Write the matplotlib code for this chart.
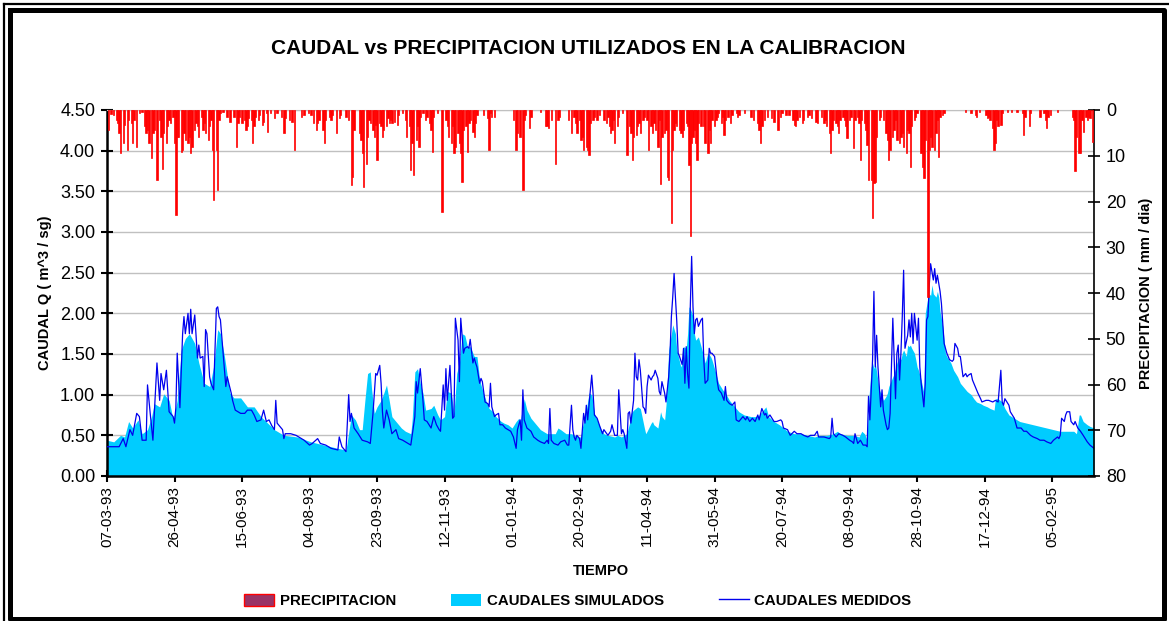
import numpy as np
import matplotlib
matplotlib.use("Agg")
import matplotlib.pyplot as plt
from matplotlib.patches import Patch
from matplotlib.lines import Line2D

plt.rcParams["font.family"] = ["Liberation Sans", "DejaVu Sans"]

# etiquetas del eje x (una cada 50 dias, dia 0 = 07-03-93)
fechas = ["07-03-93", "26-04-93", "15-06-93", "04-08-93", "23-09-93",
          "12-11-93", "01-01-94", "20-02-94", "11-04-94", "31-05-94",
          "20-07-94", "08-09-94", "28-10-94", "17-12-94", "05-02-95"]
n_dias = 731

# caudales medidos (dia, m3/s)
q_medido = [
    (0, 0.36), (9, 0.36), (12, 0.46), (14, 0.36), (17, 0.57), (19, 0.50), (22, 0.77), (24, 0.73),
    (26, 0.44), (29, 0.44), (30, 1.12), (32, 0.77), (34, 0.44), (37, 1.39), (39, 0.93), (40, 1.26),
    (42, 1.06), (44, 1.30), (46, 0.79), (49, 0.73), (50, 0.65), (51, 0.84), (52, 1.51), (54, 0.84),
    (56, 1.75), (57, 1.96), (58, 1.75), (60, 2.00), (61, 1.75), (62, 2.05), (63, 1.75), (65, 1.98),
    (67, 1.45), (68, 1.61), (69, 1.45), (71, 1.47), (72, 1.10), (73, 1.80), (74, 1.75), (76, 1.22),
    (77, 1.14), (79, 1.06), (81, 2.06), (82, 2.08), (83, 1.96), (84, 1.92), (86, 1.51), (88, 1.10),
    (89, 1.22), (92, 1.02), (93, 0.93), (95, 0.81), (99, 0.77), (102, 0.77), (104, 0.81), (107, 0.81),
    (109, 0.75), (111, 0.67), (114, 0.69), (116, 0.81), (118, 0.67), (120, 0.69), (122, 0.62),
    (124, 0.57), (125, 0.93), (126, 0.65), (130, 0.57), (131, 0.46), (132, 0.52), (136, 0.52),
    (140, 0.50), (144, 0.46), (146, 0.44), (150, 0.38), (152, 0.40), (156, 0.46), (158, 0.40),
    (162, 0.38), (166, 0.34), (171, 0.32), (172, 0.48), (174, 0.36), (177, 0.30), (179, 1.00),
    (180, 0.67), (181, 0.77), (183, 0.59), (186, 0.52), (189, 0.44), (193, 0.42), (195, 0.40),
    (197, 0.77), (199, 1.26), (200, 1.24), (202, 1.36), (203, 1.14), (204, 0.79), (205, 0.59),
    (207, 0.81), (209, 0.69), (211, 0.52), (214, 0.57), (216, 0.46), (219, 0.44), (221, 0.42),
    (225, 0.38), (228, 0.73), (229, 1.16), (230, 1.02), (232, 1.32), (234, 0.93), (235, 0.69),
    (237, 0.67), (240, 0.59), (242, 0.73), (244, 0.63), (246, 0.57), (247, 0.55), (249, 1.12),
    (250, 0.81), (251, 1.32), (252, 0.93), (254, 1.36), (255, 1.02), (256, 0.71), (257, 0.73),
    (258, 1.94), (260, 1.67), (261, 1.16), (262, 1.94), (264, 1.51), (265, 1.57), (267, 1.59),
    (268, 1.57), (269, 1.68), (271, 1.39), (272, 1.45), (273, 1.39), (274, 1.34), (276, 1.14),
    (277, 1.20), (278, 1.16), (280, 0.91), (282, 0.89), (283, 0.85), (284, 1.14), (285, 0.85),
    (287, 0.73), (288, 0.75), (290, 0.77), (291, 0.63), (293, 0.63), (295, 0.59), (299, 0.55),
    (301, 0.48), (303, 0.34), (304, 0.57), (306, 0.69), (307, 0.44), (308, 1.06), (309, 0.69),
    (311, 0.59), (314, 0.55), (316, 0.48), (319, 0.44), (321, 0.42), (324, 0.40), (326, 0.44),
    (327, 0.40), (328, 0.83), (329, 0.44), (331, 0.40), (334, 0.38), (336, 0.42), (339, 0.44),
    (341, 0.38), (342, 0.38), (344, 0.87), (345, 0.57), (346, 0.48), (347, 0.44), (348, 0.50),
    (350, 0.46), (351, 0.34), (353, 0.77), (354, 0.65), (355, 0.87), (356, 0.69), (358, 1.06),
    (359, 1.24), (360, 1.02), (361, 0.75), (363, 0.71), (365, 0.61), (367, 0.52), (368, 0.57),
    (371, 0.50), (373, 0.55), (374, 0.63), (376, 0.50), (378, 0.50), (379, 1.06), (381, 0.52),
    (382, 0.57), (383, 0.52), (385, 0.34), (386, 0.77), (387, 0.79), (388, 0.65), (390, 0.93),
    (391, 1.51), (392, 1.22), (393, 1.18), (394, 1.43), (395, 1.30), (397, 0.85), (398, 0.83),
    (399, 0.77), (400, 1.10), (401, 1.24), (403, 1.18), (404, 1.22), (405, 1.24), (406, 1.30),
    (408, 1.20), (409, 1.04), (410, 1.00), (411, 1.16), (413, 1.02), (414, 0.91), (416, 1.22),
    (417, 1.51), (418, 1.96), (419, 2.20), (420, 2.49), (421, 2.20), (422, 1.90), (423, 1.51),
    (424, 1.47), (426, 1.37), (427, 1.57), (428, 1.14), (429, 1.59), (430, 1.26), (431, 1.08),
    (432, 2.08), (433, 2.70), (434, 2.08), (435, 1.75), (436, 1.92), (437, 1.94), (438, 1.84),
    (440, 1.92), (441, 1.94), (442, 1.43), (443, 1.14), (445, 1.18), (446, 1.57), (447, 1.51),
    (448, 1.51), (450, 1.47), (451, 1.32), (452, 1.16), (453, 1.06), (455, 1.02), (457, 0.93),
    (458, 1.10), (459, 0.93), (461, 0.89), (463, 0.87), (465, 0.91), (466, 0.69), (468, 0.67),
    (471, 0.73), (473, 0.69), (474, 0.73), (476, 0.67), (478, 0.71), (480, 0.67), (482, 0.75),
    (483, 0.69), (485, 0.83), (487, 0.75), (488, 0.77), (489, 0.71), (491, 0.75), (494, 0.67),
    (496, 0.67), (499, 0.69), (500, 0.67), (501, 0.59), (504, 0.57), (506, 0.50), (509, 0.55),
    (511, 0.52), (514, 0.52), (516, 0.50), (519, 0.48), (521, 0.50), (524, 0.50), (526, 0.55),
    (527, 0.48), (531, 0.48), (535, 0.46), (536, 0.48), (537, 0.71), (538, 0.52), (540, 0.48),
    (542, 0.52), (545, 0.50), (547, 0.48), (550, 0.44), (552, 0.42), (553, 0.40), (554, 0.52),
    (556, 0.40), (558, 0.44), (560, 0.38), (562, 0.38), (563, 0.36), (564, 0.98), (565, 0.69),
    (567, 1.43), (568, 2.27), (569, 1.34), (570, 1.73), (571, 1.34), (572, 1.10), (573, 0.85),
    (574, 1.06), (575, 0.81), (577, 0.63), (578, 0.57), (579, 0.59), (580, 0.77), (582, 1.94),
    (583, 1.43), (584, 0.95), (585, 1.51), (586, 1.61), (587, 1.18), (588, 1.51), (589, 1.96),
    (590, 2.53), (591, 1.57), (593, 1.73), (594, 1.92), (595, 1.71), (596, 2.00), (597, 1.63),
    (598, 2.00), (600, 1.67), (601, 1.94), (602, 1.34), (603, 1.14), (605, 0.85), (606, 1.14),
    (607, 1.92), (608, 1.96), (609, 2.35), (610, 2.61), (612, 2.41), (613, 2.55), (614, 2.37),
    (615, 2.47), (617, 2.27), (618, 2.12), (619, 1.88), (620, 1.63), (622, 1.51), (624, 1.43),
    (626, 1.41), (627, 1.43), (628, 1.63), (630, 1.57), (631, 1.47), (632, 1.47), (633, 1.34),
    (634, 1.22), (636, 1.26), (637, 1.22), (638, 1.24), (640, 1.26), (641, 1.18), (642, 1.14),
    (645, 1.02), (647, 0.95), (648, 0.91), (651, 0.93), (653, 0.93), (656, 0.91), (658, 0.93),
    (660, 0.91), (662, 1.30), (663, 0.91), (664, 0.87), (665, 0.95), (668, 0.87), (669, 0.79),
    (672, 0.71), (674, 0.59), (677, 0.59), (679, 0.55), (681, 0.55), (684, 0.50), (686, 0.48),
    (689, 0.46), (691, 0.44), (694, 0.44), (696, 0.42), (699, 0.40), (701, 0.44), (704, 0.48),
    (705, 0.46), (706, 0.50), (707, 0.71), (709, 0.67), (710, 0.75), (711, 0.79), (713, 0.79),
    (714, 0.67), (716, 0.63), (717, 0.67), (719, 0.59), (721, 0.55), (723, 0.50), (726, 0.42),
    (728, 0.38), (731, 0.34),
]

# caudales simulados (dia, m3/s)
q_simulado = [
    (0, 0.44), (5, 0.42), (10, 0.50), (13, 0.48), (16, 0.67), (19, 0.59), (23, 0.69), (26, 0.52),
    (30, 0.57), (33, 0.73), (35, 0.89), (39, 0.85), (42, 1.01), (46, 0.93), (49, 0.69), (52, 0.93),
    (55, 1.55), (58, 1.69), (61, 1.75), (65, 1.63), (68, 1.39), (72, 1.14), (76, 1.10), (79, 1.35),
    (82, 1.80), (84, 1.75), (87, 1.47), (91, 1.02), (94, 0.96), (99, 0.96), (104, 0.85), (109, 0.85),
    (114, 0.73), (119, 0.65), (124, 0.57), (131, 0.50), (141, 0.48), (151, 0.42), (161, 0.38),
    (171, 0.34), (177, 0.32), (181, 0.75), (184, 0.69), (187, 0.57), (189, 0.57), (191, 0.93),
    (193, 1.26), (195, 1.28), (196, 1.06), (198, 0.77), (200, 0.85), (203, 0.93), (205, 1.02),
    (207, 1.12), (209, 0.93), (211, 0.73), (214, 0.67), (218, 0.59), (221, 0.55), (225, 0.52),
    (226, 0.69), (228, 1.28), (230, 1.32), (232, 1.14), (234, 1.02), (236, 0.81), (240, 0.83),
    (242, 0.87), (245, 0.75), (247, 0.69), (250, 0.73), (252, 1.04), (255, 1.02), (257, 0.77),
    (259, 1.26), (261, 1.39), (263, 1.75), (265, 1.73), (267, 1.59), (269, 1.59), (272, 1.47),
    (274, 1.47), (276, 1.18), (278, 1.06), (281, 0.91), (283, 0.83), (286, 0.79), (288, 0.73),
    (292, 0.67), (294, 0.65), (297, 0.63), (300, 0.59), (303, 0.67), (305, 0.71), (306, 0.67),
    (309, 0.95), (311, 0.81), (314, 0.71), (318, 0.63), (321, 0.57), (326, 0.52), (332, 0.52),
    (334, 0.59), (336, 0.57), (340, 0.52), (344, 0.52), (349, 0.48), (351, 0.48), (352, 0.59),
    (355, 0.81), (357, 1.02), (359, 1.00), (361, 0.77), (363, 0.69), (366, 0.57), (368, 0.52),
    (371, 0.50), (376, 0.48), (378, 0.50), (381, 0.48), (385, 0.52), (387, 0.65), (388, 0.77),
    (390, 0.81), (393, 0.85), (395, 0.83), (398, 0.59), (399, 0.52), (400, 0.55), (403, 0.65),
    (404, 0.67), (405, 0.63), (408, 0.59), (410, 0.79), (411, 0.73), (413, 0.69), (414, 0.87),
    (415, 1.18), (416, 1.55), (418, 1.75), (419, 1.86), (421, 1.75), (422, 1.55), (425, 1.34),
    (426, 1.39), (427, 1.59), (429, 1.57), (430, 1.75), (431, 2.08), (432, 2.06), (434, 1.96),
    (435, 1.75), (436, 1.67), (438, 1.71), (440, 1.59), (442, 1.47), (443, 1.39), (445, 1.51),
    (447, 1.47), (448, 1.43), (451, 1.26), (453, 1.14), (456, 1.06), (458, 1.02), (461, 0.93),
    (464, 0.87), (468, 0.79), (472, 0.75), (477, 0.73), (482, 0.73), (485, 0.79), (488, 0.85),
    (490, 0.73), (494, 0.67), (498, 0.63), (501, 0.59), (504, 0.55), (509, 0.52), (514, 0.52),
    (519, 0.50), (524, 0.48), (528, 0.50), (533, 0.50), (538, 0.52), (541, 0.55), (543, 0.52),
    (548, 0.50), (553, 0.50), (557, 0.48), (559, 0.55), (561, 0.52), (563, 0.44), (564, 0.89),
    (566, 1.34), (567, 1.39), (568, 1.32), (569, 1.39), (570, 1.28), (572, 1.06), (573, 1.02),
    (575, 0.93), (577, 0.98), (578, 1.02), (579, 1.10), (580, 1.14), (583, 1.26), (584, 1.32),
    (585, 1.39), (587, 1.47), (588, 1.43), (589, 1.51), (590, 1.55), (592, 1.47), (593, 1.61),
    (594, 1.59), (595, 1.61), (596, 1.57), (598, 1.51), (599, 1.43), (600, 1.34), (601, 1.30),
    (603, 1.18), (604, 1.10), (605, 1.02), (606, 2.00), (608, 2.20), (609, 2.24), (610, 2.22),
    (611, 2.35), (612, 2.24), (614, 2.20), (615, 2.27), (616, 2.20), (617, 2.02), (619, 1.84),
    (620, 1.67), (621, 1.51), (622, 1.47), (625, 1.39), (627, 1.30), (630, 1.22), (632, 1.14),
    (635, 1.08), (637, 1.04), (640, 1.00), (642, 0.95), (644, 0.91), (647, 0.89), (649, 0.87),
    (652, 0.85), (654, 0.83), (657, 0.81), (658, 0.95), (660, 0.95), (663, 0.91), (665, 0.83),
    (668, 0.75), (672, 0.71), (676, 0.67), (681, 0.65), (686, 0.63), (691, 0.61), (696, 0.59),
    (701, 0.57), (706, 0.55), (716, 0.55), (718, 0.52), (720, 0.75), (721, 0.75), (723, 0.67),
    (726, 0.63), (728, 0.61), (731, 0.59),
]

# precipitacion diaria (dia, mm)
lluvia = [
    (1, 4.4), (3, 0.8), (5, 1.0), (7, 2.2), (8, 2.9), (9, 5.1), (10, 9.5), (12, 7.3), (13, 3.3),
    (15, 8.7), (16, 2.2), (18, 2.9), (19, 7.3), (20, 2.2), (22, 8.0), (24, 0.7), (26, 0.5),
    (28, 3.6), (29, 5.1), (30, 4.4), (31, 7.3), (33, 10.6), (34, 5.1), (35, 4.4), (37, 15.3),
    (39, 2.2), (40, 5.8), (41, 12.8), (42, 5.1), (44, 7.3), (45, 3.6), (46, 2.2), (47, 2.9),
    (49, 1.5), (50, 7.3), (51, 22.9), (52, 5.8), (53, 5.8), (55, 9.1), (56, 8.7), (57, 5.1),
    (58, 6.6), (60, 7.3), (61, 5.8), (62, 9.5), (63, 8.0), (65, 4.4), (66, 2.9), (67, 3.6),
    (68, 5.8), (70, 1.5), (71, 4.4), (72, 2.9), (73, 5.1), (75, 6.6), (76, 3.6), (77, 2.2),
    (78, 8.7), (79, 19.7), (81, 8.7), (82, 17.5), (83, 2.2), (84, 0.7), (86, 0.5), (89, 1.5),
    (91, 2.6), (94, 1.5), (96, 8.0), (97, 2.9), (98, 1.5), (100, 2.9), (102, 2.2), (103, 4.4),
    (104, 3.6), (105, 1.8), (107, 2.2), (108, 7.3), (109, 3.6), (110, 1.5), (112, 2.2),
    (113, 1.1), (115, 3.3), (116, 2.6), (118, 0.7), (119, 4.7), (121, 0.7), (124, 1.8),
    (126, 0.7), (129, 1.5), (131, 5.1), (132, 1.8), (135, 2.2), (137, 2.6), (139, 8.7),
    (144, 1.5), (146, 1.1), (149, 0.7), (151, 1.1), (153, 2.9), (155, 4.4), (156, 2.9),
    (157, 2.2), (160, 4.4), (161, 7.3), (162, 2.2), (165, 1.5), (166, 2.2), (167, 1.1),
    (170, 5.1), (172, 1.8), (173, 1.1), (177, 1.5), (179, 2.2), (181, 16.4), (182, 14.6),
    (183, 4.4), (187, 5.1), (188, 6.6), (189, 9.5), (190, 16.8), (192, 11.7), (193, 5.8),
    (194, 2.2), (195, 2.9), (197, 4.4), (198, 5.8), (199, 3.3), (200, 10.9), (202, 2.9),
    (203, 3.6), (204, 5.8), (205, 4.4), (207, 3.6), (208, 1.8), (209, 2.9), (210, 2.2),
    (211, 2.9), (213, 2.6), (215, 3.3), (216, 1.1), (219, 0.7), (221, 2.2), (222, 5.8),
    (224, 3.6), (225, 13.1), (226, 7.3), (227, 14.2), (229, 6.6), (230, 3.6), (231, 8.0),
    (232, 1.5), (234, 0.7), (236, 2.2), (237, 1.5), (239, 2.9), (240, 4.4), (241, 9.1),
    (242, 1.5), (245, 0.7), (248, 22.2), (251, 2.2), (252, 3.6), (253, 5.8), (255, 7.3),
    (256, 3.6), (257, 9.5), (258, 8.0), (260, 5.1), (261, 7.3), (262, 9.5), (263, 15.7),
    (264, 4.4), (266, 3.6), (267, 9.1), (268, 2.9), (269, 2.2), (271, 4.7), (272, 5.8),
    (273, 2.9), (274, 1.1), (279, 1.1), (282, 1.8), (283, 8.7), (284, 0.7), (285, 1.5),
    (287, 1.5), (301, 2.2), (303, 8.7), (304, 5.1), (306, 5.8), (308, 17.5), (309, 2.2),
    (310, 1.1), (313, 4.0), (314, 1.5), (321, 0.4), (325, 3.6), (326, 3.6), (327, 4.0),
    (329, 2.2), (332, 11.7), (334, 2.2), (335, 1.5), (342, 2.2), (344, 5.1), (346, 1.5),
    (347, 2.9), (348, 5.1), (350, 2.2), (351, 6.6), (352, 5.8), (353, 8.7), (355, 8.0),
    (356, 8.7), (357, 9.8), (358, 2.9), (360, 2.2), (361, 1.5), (363, 2.2), (365, 1.1),
    (368, 2.2), (370, 2.9), (371, 1.5), (372, 3.6), (373, 5.1), (374, 4.4), (375, 2.2),
    (376, 7.3), (378, 3.6), (379, 1.5), (382, 0.7), (385, 9.8), (387, 3.6), (388, 5.1),
    (389, 10.9), (390, 5.8), (392, 5.5), (393, 3.6), (394, 2.9), (395, 5.1), (397, 2.2),
    (398, 1.5), (400, 2.2), (401, 8.7), (403, 3.6), (404, 5.1), (405, 2.9), (406, 4.4),
    (408, 8.0), (409, 2.2), (410, 16.1), (411, 5.8), (413, 5.1), (414, 4.4), (415, 14.6),
    (416, 15.3), (418, 24.6), (419, 8.7), (420, 4.4), (421, 2.9), (422, 3.6), (424, 4.4),
    (425, 5.1), (426, 5.8), (427, 4.4), (429, 2.9), (430, 3.6), (431, 12.0), (432, 27.6),
    (433, 7.3), (434, 5.8), (435, 4.4), (436, 7.3), (437, 10.9), (438, 2.9), (440, 3.6),
    (442, 3.6), (443, 7.3), (445, 9.5), (446, 4.4), (447, 7.3), (448, 2.2), (450, 3.6),
    (451, 2.2), (452, 1.5), (453, 0.7), (455, 2.9), (456, 1.5), (457, 5.5), (458, 2.2),
    (460, 1.5), (462, 2.9), (463, 1.1), (466, 0.7), (467, 1.5), (468, 1.1), (472, 0.7),
    (477, 1.5), (479, 2.2), (482, 2.9), (483, 4.4), (484, 7.3), (485, 3.6), (487, 2.2),
    (489, 1.5), (492, 1.8), (494, 2.6), (497, 4.4), (499, 1.5), (500, 0.7), (503, 1.1),
    (505, 1.1), (508, 2.2), (509, 3.3), (510, 3.6), (511, 2.2), (513, 1.5), (515, 2.9),
    (516, 2.2), (519, 1.5), (520, 1.1), (522, 1.8), (525, 2.6), (526, 2.9), (529, 1.5),
    (531, 2.9), (532, 2.2), (533, 3.6), (535, 5.1), (536, 9.5), (537, 4.4), (538, 2.2),
    (540, 2.9), (541, 3.6), (542, 5.1), (543, 2.2), (545, 1.5), (546, 2.2), (547, 3.6),
    (548, 6.2), (550, 2.2), (551, 1.5), (553, 8.4), (554, 2.2), (556, 1.5), (557, 2.9),
    (558, 10.9), (559, 2.2), (561, 2.9), (562, 4.4), (563, 7.7), (564, 15.3), (566, 15.3),
    (567, 23.6), (568, 16.0), (569, 15.7), (570, 5.8), (572, 2.2), (573, 1.5), (575, 2.2),
    (577, 5.1), (578, 6.6), (579, 10.9), (580, 8.7), (582, 5.8), (583, 4.4), (584, 2.2),
    (585, 6.6), (587, 7.3), (588, 5.8), (589, 5.1), (590, 8.0), (592, 9.5), (593, 4.4),
    (594, 5.1), (595, 12.4), (596, 3.6), (598, 2.2), (599, 1.5), (600, 0.7), (603, 9.5),
    (604, 12.4), (605, 14.9), (606, 6.6), (608, 40.8), (609, 8.7), (610, 5.8), (611, 8.0),
    (613, 8.7), (614, 5.1), (615, 2.2), (616, 10.2), (617, 1.5), (619, 1.1), (620, 0.7),
    (636, 0.4), (640, 0.7), (643, 1.1), (644, 1.5), (646, 0.4), (651, 1.1), (652, 1.8),
    (653, 1.5), (654, 2.2), (656, 4.0), (657, 8.7), (658, 7.3), (659, 2.2), (660, 3.6),
    (662, 3.3), (663, 0.7), (667, 0.4), (670, 0.4), (674, 0.4), (678, 0.7), (679, 5.5),
    (680, 1.5), (683, 3.6), (684, 0.7), (691, 1.5), (694, 0.7), (695, 2.2), (696, 4.0),
    (697, 1.5), (699, 1.1), (704, 0.4), (715, 1.5), (716, 2.2), (717, 13.4), (718, 5.8),
    (720, 9.5), (721, 9.5), (722, 2.2), (723, 4.7), (725, 1.5), (726, 2.2), (727, 1.5),
    (728, 1.8), (730, 6.9),
]

W, H = 1169, 621


def fx(px):
    return px / W


def fy(py):
    return 1 - py / H


fig = plt.figure(figsize=(W / 100, H / 100), dpi=100)
fig.patch.set_facecolor("white")

ax = fig.add_axes([fx(107), fy(476), fx(1094) - fx(107), fy(110) - fy(476)])

d_sim, v_sim = zip(*q_simulado)
d_med, v_med = zip(*q_medido)
d_ll, v_ll = zip(*lluvia)

ax.fill_between(d_sim, 0, v_sim, color="#00CCFF", linewidth=0, zorder=2)
ax.plot(d_med, v_med, color="#0000EE", linewidth=0.9, zorder=3)

ax.set_xlim(0, n_dias)
ax.set_ylim(0, 4.5)
ax.set_yticks(np.arange(0, 4.51, 0.5))
ax.set_yticklabels([f"{v:.2f}" for v in np.arange(0, 4.51, 0.5)], fontsize=13)
ax.set_xticks(np.arange(0, 50 * len(fechas), 50))
ax.set_xticklabels(fechas, rotation=90, fontsize=11)
ax.tick_params(axis="both", direction="inout", length=9, width=1.5, colors="black")
ax.tick_params(axis="x", pad=3)
ax.tick_params(axis="y", pad=4)
ax.yaxis.grid(True, color="#C0C0C0", linewidth=1)
ax.set_axisbelow(True)
for s in ["left", "bottom"]:
    ax.spines[s].set_linewidth(1.8)
ax.spines["top"].set_color("#C0C0C0")
ax.spines["right"].set_visible(False)

ax.set_xlabel("TIEMPO", fontsize=10.5, fontweight="bold", labelpad=12)
ax.set_ylabel("CAUDAL Q ( m^3 / sg)", fontsize=10.5, fontweight="bold", labelpad=6)

ax2 = ax.twinx()
ax2.bar(d_ll, v_ll, width=1.0, color="#FF0000", edgecolor="#FF0000", linewidth=0.5, zorder=4)
ax2.set_ylim(80, 0)
ax2.set_yticks(np.arange(0, 81, 10))
ax2.set_yticklabels([str(v) for v in range(0, 81, 10)], fontsize=13)
ax2.tick_params(axis="y", direction="inout", length=9, width=1.2, colors="black", pad=4)
ax2.spines["right"].set_linewidth(1.2)
for s in ["left", "top", "bottom"]:
    ax2.spines[s].set_visible(False)
ax2.set_ylabel("PRECIPITACION ( mm / dia)", fontsize=10.5, fontweight="bold", labelpad=9)

fig.text(fx(588), fy(48), "CAUDAL vs PRECIPITACION UTILIZADOS EN LA CALIBRACION",
         ha="center", va="center", fontsize=15, fontweight="bold")

handles = [
    Patch(facecolor="#993366", edgecolor="#FF0000", linewidth=1),
    Patch(facecolor="#00CCFF", edgecolor="none"),
    Line2D([], [], color="#0000EE", linewidth=1),
]
nombres = ["PRECIPITACION", "CAUDALES SIMULADOS", "CAUDALES MEDIDOS"]
fig.legend(handles, nombres, loc="center", bbox_to_anchor=(fx(578), fy(601)), ncol=3,
           frameon=False, prop={"weight": "bold", "size": 10.8}, handlelength=2.0,
           handleheight=0.9, handletextpad=0.35, columnspacing=3.7)

# marco doble alrededor del grafico
fig.add_artist(Line2D([fx(4), fx(4)], [fy(4), fy(621)], color="black", linewidth=1.6))
fig.add_artist(Line2D([fx(4), fx(1169)], [fy(4), fy(4)], color="black", linewidth=1.6))
fig.add_artist(Line2D([fx(10), fx(10), fx(1164), fx(1164), fx(10)],
                      [fy(10), fy(619), fy(619), fy(10), fy(10)], color="black", linewidth=3.6))

fig.savefig("out.png", dpi=100)
